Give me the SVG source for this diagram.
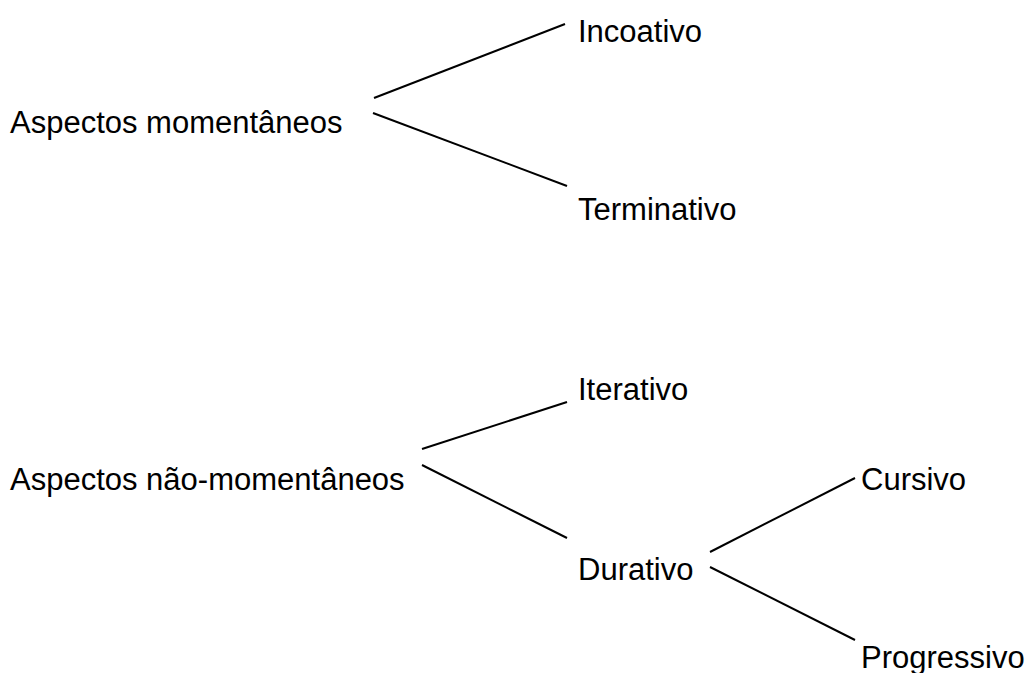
<svg xmlns="http://www.w3.org/2000/svg" width="1032" height="673" viewBox="0 0 1032 673">
<style>
text { font-family: "Liberation Sans", Arial, sans-serif; font-size: 31px; fill: #000; }
line { stroke: #000; stroke-width: 2; }
</style>
<rect width="1032" height="673" fill="#fff"/>
<g id="connectors">
<line x1="374" y1="98" x2="565" y2="24"/>
<line x1="373" y1="113" x2="567" y2="186"/>
<line x1="422" y1="449" x2="567" y2="402"/>
<line x1="422" y1="465" x2="567" y2="538"/>
<line x1="710" y1="552" x2="855" y2="478"/>
<line x1="710" y1="567" x2="855" y2="640"/>
</g>
<g id="n-momentaneos"><text x="10" y="133">Aspectos momentâneos</text></g>
<g id="n-incoativo"><text x="578" y="42">Incoativo</text></g>
<g id="n-terminativo"><text x="578" y="220">Terminativo</text></g>
<g id="n-nao-momentaneos"><text x="10" y="490">Aspectos não-momentâneos</text></g>
<g id="n-iterativo"><text x="578" y="400">Iterativo</text></g>
<g id="n-durativo"><text x="578" y="580">Durativo</text></g>
<g id="n-cursivo"><text x="861" y="490">Cursivo</text></g>
<g id="n-progressivo"><text x="861" y="668">Progressivo</text></g>
</svg>
